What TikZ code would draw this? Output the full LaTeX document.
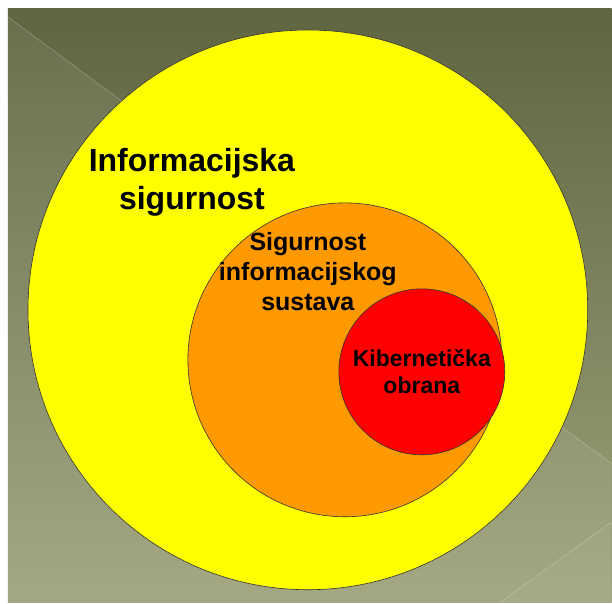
\documentclass[tikz,border=0pt]{standalone}
\usepackage{fontspec}
\setmainfont{Liberation Sans}
\usepackage{tikz}
\usetikzlibrary{shapes}
\usetikzlibrary{positioning}
\definecolor{olivTop}{RGB}{94,101,64}
\definecolor{olivBottom}{RGB}{157,162,122}
\definecolor{zoneOuter}{RGB}{255,255,0}
\definecolor{zoneMiddle}{RGB}{255,153,0}
\definecolor{zoneInner}{RGB}{255,0,0}
\tikzstyle{zone} = [circle, draw=black!80, line width=0.6pt, inner sep=0pt]
\tikzstyle{zoneText} = [align=center, inner sep=0pt, text=black]

\begin{document}
\begin{tikzpicture}[x=1pt, y=-1pt]
    \fill[white] (0,0) rectangle (612,603);
    \shade[top color=olivTop, bottom color=olivBottom] (8,8) rectangle (612,603);
    \fill[white, opacity=0.07] (8,17) -- (612,464) -- (612,603) -- (8,603) -- cycle;
    \draw[white, opacity=0.25, line width=0.6pt] (8,17) -- (612,464);
    \fill[white, opacity=0.04] (500,603) -- (612,522) -- (612,603) -- cycle;
    \draw[white, opacity=0.25, line width=0.6pt] (500,603) -- (612,522);
    \node[zone, fill=zoneOuter, minimum size=560pt] (outer) at (308,310) {};
    \node[zone, fill=zoneMiddle, minimum size=314pt] (middle) at (345,360) {};
    \node[zone, fill=zoneInner, minimum size=166pt] (inner) at (422,372) {};
    \node[zoneText, font=\fontsize{32}{38}\selectfont\bfseries] (outerName) at (192,182)
        {Informacijska\\sigurnost};
    \node[zoneText, font=\fontsize{25}{30}\selectfont\bfseries] (middleName) at (308,272)
        {Sigurnost\\informacijskog\\sustava};
    \node[zoneText, font=\fontsize{23}{27}\selectfont\bfseries] (innerName) at (inner)
        {Kibernetička\\obrana};
\end{tikzpicture}
\end{document}
